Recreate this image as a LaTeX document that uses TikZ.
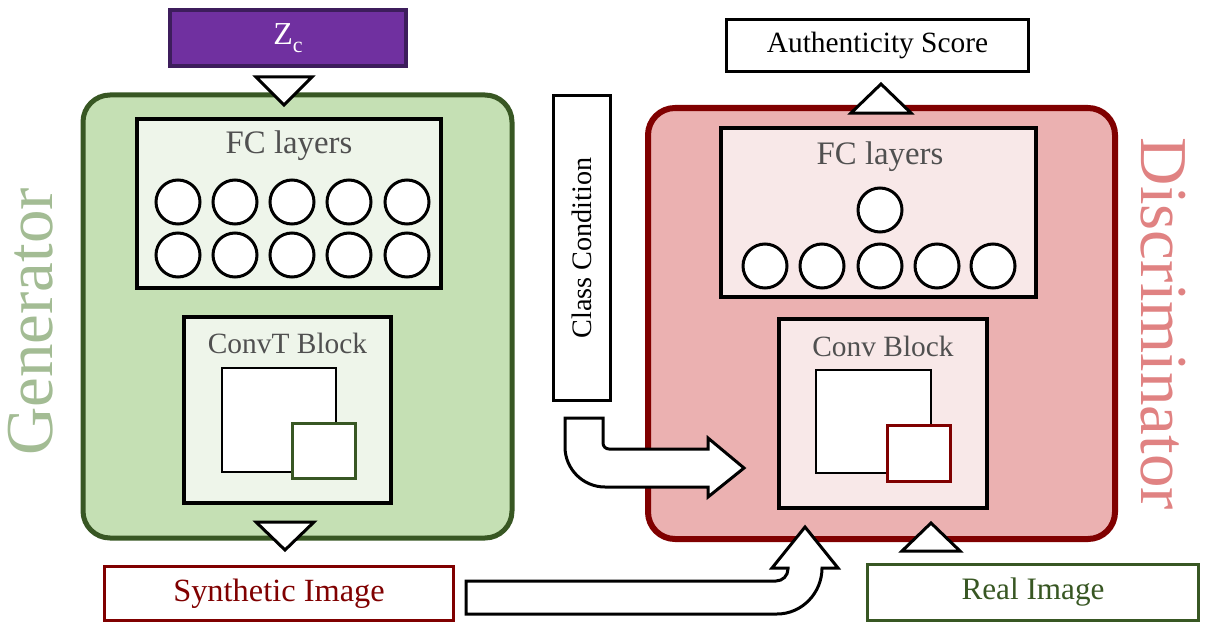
\documentclass[tikz,border=0pt]{standalone}
\usepackage{fontspec}
\setmainfont{Liberation Serif}
\definecolor{genfill}{HTML}{C5E0B4}
\definecolor{gendark}{HTML}{385723}
\definecolor{genlight}{HTML}{EEF5EA}
\definecolor{gentext}{HTML}{A3BC94}
\definecolor{discfill}{HTML}{EBB1B1}
\definecolor{discdark}{HTML}{800000}
\definecolor{disclight}{HTML}{F8E8E8}
\definecolor{disctext}{HTML}{E08282}
\definecolor{zcfill}{HTML}{7030A0}
\definecolor{zcdark}{HTML}{3D1D5C}
\definecolor{labelgray}{HTML}{505050}

\begin{document}
\begin{tikzpicture}[x=0.5pt, y=-0.5pt,
    every node/.style={inner sep=0pt},
    neuron/.style={draw, circle, fill=white, line width=1.5pt, minimum size=22pt},
    layerbox/.style={draw, line width=2pt, rectangle},
    iobox/.style={draw, line width=1.5pt, rectangle, fill=white},
    blockarrow/.style={draw, fill=white, line width=1.5pt, line join=miter},
    txt/.style={font=\fontsize{14.7}{16}\selectfont, text=labelgray}]
    \useasboundingbox (0,0) rectangle (1224,626);

    % generator
    \draw [fill=genfill, draw=gendark, line width=2.5pt, rounded corners=13.5pt] (83,95) rectangle (512,538);
    \node [rotate=90, text=gentext, font=\fontsize{33.5}{34}\selectfont] (gentitle) at (31,322) {Generator};
    \node [layerbox, fill=genlight, minimum width=152pt, minimum height=84.5pt] (genfc) at (289,203.5) {};
    \node [txt, font=\fontsize{16.4}{18}\selectfont] (genfclabel) at (289,146) {FC layers};
    \node [neuron] (g1) at (178,202) {};
    \node [neuron] (g2) at (235,202) {};
    \node [neuron] (g3) at (292,202) {};
    \node [neuron] (g4) at (349,202) {};
    \node [neuron] (g5) at (407,202) {};
    \node [neuron] (g6) at (178,255) {};
    \node [neuron] (g7) at (235,255) {};
    \node [neuron] (g8) at (292,255) {};
    \node [neuron] (g9) at (349,255) {};
    \node [neuron] (g10) at (407,255) {};
    \node [layerbox, fill=genlight, minimum width=103.5pt, minimum height=93pt] (genconv) at (287.5,410) {};
    \node [txt] (genconvlabel) at (287.5,343) {ConvT Block};
    \draw [fill=white, line width=0.8pt] (222,368) rectangle (336,472);
    \draw [fill=white, draw=gendark, line width=1.5pt] (292.5,423.5) rectangle (355.5,478.5);

    % discriminator
    \draw [fill=discfill, draw=discdark, line width=3pt, rounded corners=13.5pt] (648,108) rectangle (1115,539);
    \node [rotate=-90, text=disctext, font=\fontsize{33.5}{34}\selectfont] (disctitle) at (1163,324) {Discriminator};
    \node [layerbox, fill=disclight, minimum width=157.5pt, minimum height=84.5pt] (discfc) at (878.5,212.5) {};
    \node [txt, font=\fontsize{16.4}{18}\selectfont] (discfclabel) at (880,157) {FC layers};
    \node [neuron] (d0) at (880,210) {};
    \node [neuron] (d1) at (765,266) {};
    \node [neuron] (d2) at (822,266) {};
    \node [neuron] (d3) at (880,266) {};
    \node [neuron] (d4) at (937,266) {};
    \node [neuron] (d5) at (993,266) {};
    \node [layerbox, fill=disclight, minimum width=104pt, minimum height=94.5pt] (discconv) at (883,413.5) {};
    \node [txt] (discconvlabel) at (883,346) {Conv Block};
    \draw [fill=white, line width=0.8pt] (816,370) rectangle (931,473);
    \draw [fill=white, draw=discdark, line width=1.5pt] (887.5,425.5) rectangle (950.5,481.5);

    % inputs and outputs
    \node [iobox, fill=zcfill, draw=zcdark, line width=2pt, minimum width=118pt, minimum height=28pt,
      text=white, font=\fontsize{16}{18}\selectfont] (zc) at (288,38) {Z\raisebox{-0.5ex}{\fontsize{11}{12}\selectfont c}};
    \node [iobox, minimum width=151pt, minimum height=26pt, font=\fontsize{14.7}{16}\selectfont] (score) at (877.5,45.5) {Authenticity Score};
    \node [iobox, rotate=90, minimum width=152.5pt, minimum height=28.5pt, font=\fontsize{14.1}{16}\selectfont] (cls) at (582,248) {Class Condition};
    \node [iobox, draw=discdark, text=discdark, minimum width=174.5pt, minimum height=27pt, font=\fontsize{16.2}{18}\selectfont] (synth) at (279,593.5) {Synthetic Image};
    \node [iobox, draw=gendark, text=gendark, minimum width=165.5pt, minimum height=28pt, font=\fontsize{15.6}{18}\selectfont] (real) at (1033,592.5) {Real Image};

    % triangles
    \draw [blockarrow] (256,77) -- (312,77) -- (284,105) -- cycle;
    \draw [blockarrow] (256,522) -- (314,522) -- (285,550) -- cycle;
    \draw [blockarrow] (851,113) -- (911,113) -- (881,84) -- cycle;
    \draw [blockarrow] (902,551) -- (960,551) -- (931,523) -- cycle;

    % bent arrows
    \draw [blockarrow] (565,418) -- (603,418) -- (603,443) .. controls (603,446.3) and (605.7,449) .. (609,449)
      -- (708,449) -- (708,438) -- (744,468) -- (708,497) -- (708,487) -- (605,487)
      .. controls (583,487) and (565,469) .. (565,447) -- cycle;
    \draw [blockarrow] (466,581) -- (776,581) .. controls (782.6,581) and (788,575.6) .. (788,569)
      -- (788,568) -- (772,568) -- (805,527) -- (838,568) -- (822,568)
      .. controls (822,593) and (802,614) .. (777,614) -- (466,614) -- cycle;
\end{tikzpicture}
\end{document}
